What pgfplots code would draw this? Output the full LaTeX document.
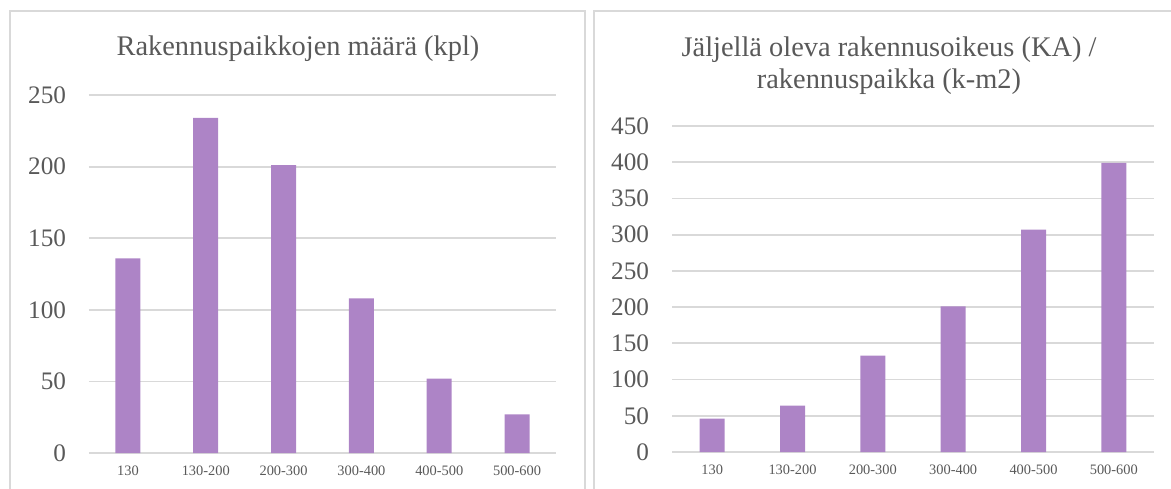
\documentclass[border=0pt]{standalone}
\usepackage{fontspec}
\setmainfont{Liberation Serif}
\usepackage{pgfplots}
\pgfplotsset{compat=1.18}
\definecolor{barc}{HTML}{AD84C6}
\definecolor{gridc}{HTML}{D9D9D9}
\definecolor{txtc}{HTML}{595959}
\pgfplotsset{
  panel/.style={
    scale only axis,
    anchor=south west,
    xmin=-0.5, xmax=5.5, ymin=0,
    axis line style={draw=none},
    tick style={draw=none},
    major tick length=0pt,
    ymajorgrids,
    grid style={gridc, line width=0.9pt},
    xtick={0,1,2,3,4,5},
    xticklabels={130,130-200,200-300,300-400,400-500,500-600},
    ytick distance=50,
    /pgf/number format/assume math mode=true,
    ticklabel style={text=txtc},
    yticklabel style={font=\fontsize{12.6}{14}\selectfont, anchor=east, inner sep=0pt, xshift=-11.3pt},
    xticklabel style={font=\fontsize{7.2}{8}\selectfont, anchor=north, inner sep=0pt, yshift=-6.5pt},
    ybar, bar width=12.5pt,
    clip=false,
  }
}
\begin{document}
\begin{tikzpicture}
\useasboundingbox (0,0) rectangle (585.5pt,244pt);
\draw[gridc, line width=0.9pt] (5pt,-2pt) -- (5pt,238.5pt) -- (292.5pt,238.5pt) -- (292.5pt,-2pt);
\draw[gridc, line width=0.9pt] (297pt,-2pt) -- (297pt,238.5pt) -- (600pt,238.5pt);

\node[anchor=base, text=txtc, font=\fontsize{14.2}{16}\selectfont] at (149pt,216pt) {Rakennuspaikkojen määrä (kpl)};
\node[anchor=base, text=txtc, font=\fontsize{14.2}{16}\selectfont] at (444.5pt,215.5pt) {Jäljellä oleva rakennusoikeus (KA) /};
\node[anchor=base, text=txtc, font=\fontsize{14.2}{16}\selectfont] at (444.5pt,199.5pt) {rakennuspaikka (k-m2)};

\begin{axis}[panel, at={(44.5pt,17.5pt)}, width=233.5pt, height=179pt, ymax=250]
\addplot[fill=barc, draw=none] coordinates {(0,136) (1,234) (2,201) (3,108) (4,52) (5,27)};
\end{axis}

\begin{axis}[panel, at={(336pt,18pt)}, width=241pt, height=163pt, ymax=450]
\addplot[fill=barc, draw=none] coordinates {(0,46) (1,64) (2,133) (3,201) (4,307) (5,399)};
\end{axis}
\end{tikzpicture}
\end{document}
